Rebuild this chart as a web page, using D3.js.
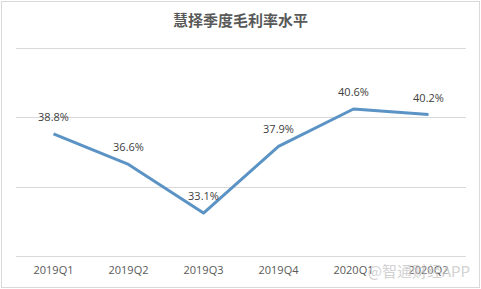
<!DOCTYPE html>
<html>
<head>
<meta charset="utf-8">
<script src="https://cdn.jsdelivr.net/npm/d3@7"></script>
<style>
  body { margin: 0; background: #fff; }
  svg { display: block; }
</style>
</head>
<body>
<svg id="chart"></svg>
<script>
// data
const quarters = ['2019Q1', '2019Q2', '2019Q3', '2019Q4', '2020Q1', '2020Q2'];
const margins = [38.8, 36.6, 33.1, 37.9, 40.6, 40.2];
const yTicks = [30, 35, 40, 45];
const title = '慧择季度毛利率水平';

const width = 481, height = 289;
const plot = {left: 16, right: 466, top: 48, bottom: 256};

const svg = d3.select('#chart')
    .attr('width', width)
    .attr('height', height);

// outer frame
svg.append('rect')
    .attr('x', 1.5).attr('y', 1.5)
    .attr('width', width - 3).attr('height', height - 3)
    .attr('fill', '#fff')
    .attr('stroke', '#d9d9d9');

const x = d3.scaleBand()
    .domain(quarters)
    .range([plot.left, plot.right]);

const y = d3.scaleLinear()
    .domain([30, 45])
    .range([plot.bottom, plot.top]);

// gridlines
svg.append('g')
    .selectAll('line')
    .data(yTicks)
    .join('line')
    .attr('x1', plot.left)
    .attr('x2', plot.right)
    .attr('y1', d => Math.round(y(d)) + 0.5)
    .attr('y2', d => Math.round(y(d)) + 0.5)
    .attr('stroke', '#d9d9d9')
    .attr('stroke-width', 1);

// x axis labels
const xAxis = d3.axisBottom(x).tickSize(0).tickPadding(10);
const xAxisG = svg.append('g')
    .attr('transform', `translate(0,${plot.bottom})`)
    .call(xAxis);
xAxisG.select('.domain').remove();
xAxisG.selectAll('text')
    .attr('fill', '#595959')
    .style('font-family', '"Open Sans", "DejaVu Sans", sans-serif')
    .style('font-size', '11px');

// line
const line = d3.line()
    .x((d, i) => x(quarters[i]) + x.bandwidth() / 2)
    .y(d => y(d));

svg.append('path')
    .datum(margins)
    .attr('d', line)
    .attr('fill', 'none')
    .attr('stroke', '#5b93c5')
    .attr('stroke-width', 3)
    .attr('stroke-linejoin', 'round');

// value labels
svg.append('g')
    .selectAll('text')
    .data(margins)
    .join('text')
    .attr('x', (d, i) => x(quarters[i]) + x.bandwidth() / 2)
    .attr('y', d => y(d) - 13)
    .attr('text-anchor', 'middle')
    .attr('fill', '#404040')
    .style('font-family', '"Open Sans", "DejaVu Sans", sans-serif')
    .style('font-size', '11px')
    .text(d => d.toFixed(1) + '%');

// title
svg.append('text')
    .attr('x', width / 2)
    .attr('y', 26)
    .attr('text-anchor', 'middle')
    .attr('fill', '#595959')
    .style('font-family', '"Noto Sans CJK SC", sans-serif')
    .style('font-size', '15px')
    .style('font-weight', 'bold')
    .text(title);

// watermark
svg.append('text')
    .attr('x', 470)
    .attr('y', 277)
    .attr('text-anchor', 'end')
    .attr('fill', '#c8c8c8')
    .attr('opacity', 0.8)
    .style('font-family', '"Noto Sans CJK SC", sans-serif')
    .style('font-size', '15px')
    .text('@智通财经APP');
</script>
</body>
</html>
